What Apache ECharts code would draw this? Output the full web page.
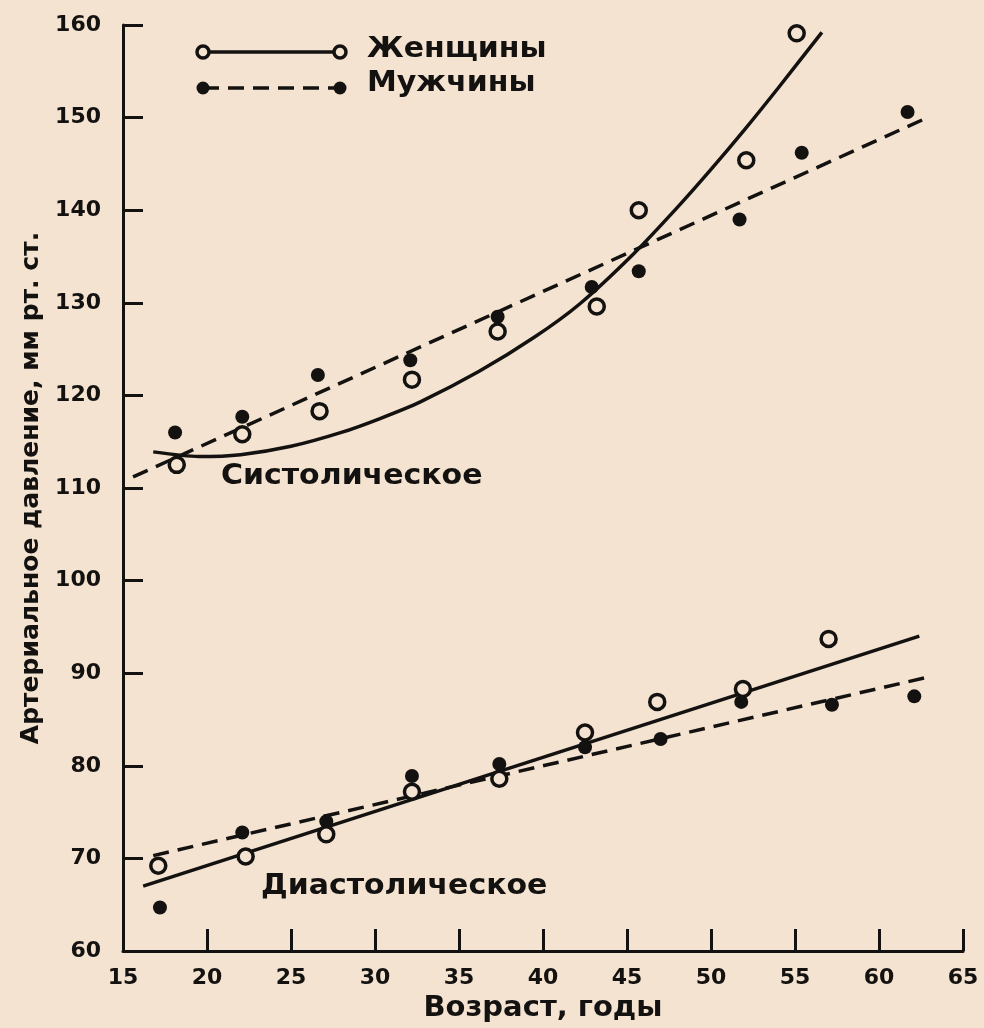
<!DOCTYPE html>
<html>
<head>
<meta charset="utf-8">
<script src="https://cdn.jsdelivr.net/npm/echarts@6/dist/echarts.min.js"></script>
<style>
html, body {margin: 0; padding: 0; background: #f3e3d0;}
#chart {width: 984px; height: 1028px;}
</style>
</head>
<body>
<div id="chart"></div>
<script>
// measured points: [age, mmHg]
const sysWomenPoints = [[18.2, 112.5], [22.1, 115.8], [26.7, 118.3], [32.2, 121.7], [37.3, 126.9], [43.2, 129.6], [45.7, 140.0], [52.1, 145.4], [55.1, 159.1]];
const sysMenPoints = [[18.1, 116.0], [22.1, 117.7], [26.6, 122.2], [32.1, 123.8], [37.3, 128.5], [42.9, 131.7], [45.7, 133.4], [51.7, 139.0], [55.4, 146.2], [61.7, 150.6]];
const diaWomenPoints = [[17.1, 69.2], [22.3, 70.2], [27.1, 72.6], [32.2, 77.2], [37.4, 78.6], [42.5, 83.6], [46.8, 86.9], [51.9, 88.3], [57.0, 93.7]];
const diaMenPoints = [[17.2, 64.7], [22.1, 72.8], [27.1, 74.0], [32.2, 78.9], [37.4, 80.2], [42.5, 82.0], [47.0, 82.9], [51.8, 86.9], [57.2, 86.6], [62.1, 87.5]];

// fitted lines as drawn in the figure
const sysWomenCurve = [[16.8, 113.9], [19.5, 113.4], [22, 113.6], [25, 114.5], [28, 116.0], [30.3, 117.5], [32.7, 119.3], [36.2, 122.6], [39.5, 126.3], [42.2, 129.9], [45.4, 135.3], [48, 140.3], [50, 144.4], [52, 148.7], [54, 153.2], [56.6, 159.2]];
const sysMenLine = [[15.6, 111.2], [63.0, 150.1]];
const diaWomenLine = [[16.2, 67.0], [62.4, 94.0]];
const diaMenLine = [[16.8, 70.3], [63.2, 89.7]];

const xTicks = {min: 15, max: 65, step: 5};
const yTicks = {min: 60, max: 160, step: 10};

const ink = '#141210';
const bg = '#f3e3d0';
const font = 'DejaVu Sans';

let chart = echarts.init(document.getElementById('chart'), null, {renderer: 'canvas'});

let axisCommon = {
    type: 'value',
    splitLine: {show: false},
    axisLine: {lineStyle: {color: ink, width: 3}},
    axisTick: {inside: true, lineStyle: {color: ink, width: 3}},
    axisLabel: {color: ink, fontFamily: font, fontWeight: 'bold', fontSize: 22},
    nameLocation: 'middle',
    nameTextStyle: {color: ink, fontFamily: font, fontWeight: 'bold', fontSize: 22}
};

let lineSeries = (data, dashed, smooth) => ({
    type: 'line',
    data: data,
    showSymbol: false,
    smooth: smooth ? 0.25 : false,
    lineStyle: {color: ink, width: 3.5, type: dashed ? [16, 9] : 'solid'},
    silent: true,
    z: 2
});

let openDots = (data) => ({
    type: 'scatter',
    data: data,
    symbol: 'circle',
    symbolSize: 15,
    itemStyle: {color: bg, borderColor: ink, borderWidth: 3.5, opacity: 1},
    z: 4
});

let filledDots = (data) => ({
    type: 'scatter',
    data: data,
    symbol: 'circle',
    symbolSize: 14,
    itemStyle: {color: ink, opacity: 1},
    z: 3
});

let labelText = {fontFamily: font, fontWeight: 'bold', fontSize: 28, fill: ink, textVerticalAlign: 'middle'};

chart.setOption({
    backgroundColor: bg,
    animation: false,
    grid: {left: 123, right: 21, top: 25, bottom: 76},
    xAxis: {
        ...axisCommon,
        min: xTicks.min, max: xTicks.max, interval: xTicks.step,
        axisTick: {...axisCommon.axisTick, length: 22},
        axisLabel: {...axisCommon.axisLabel, margin: 16},
        name: 'Возраст, годы',
        nameGap: 43,
        nameTextStyle: {...axisCommon.nameTextStyle, fontSize: 29}
    },
    yAxis: {
        ...axisCommon,
        min: yTicks.min, max: yTicks.max, interval: yTicks.step,
        axisTick: {...axisCommon.axisTick, length: 20},
        axisLabel: {...axisCommon.axisLabel, margin: 22},
        name: 'Артериальное давление, мм рт. ст.',
        nameGap: 76,
        nameTextStyle: {...axisCommon.nameTextStyle, fontSize: 25}
    },
    series: [
        lineSeries(sysWomenCurve, false, true),
        lineSeries(sysMenLine, true, false),
        lineSeries(diaWomenLine, false, false),
        lineSeries(diaMenLine, true, false),
        filledDots(sysMenPoints),
        filledDots(diaMenPoints),
        openDots(sysWomenPoints),
        openDots(diaWomenPoints)
    ],
    graphic: [
        {type: 'line', shape: {x1: 203, y1: 52, x2: 340, y2: 52}, style: {stroke: ink, lineWidth: 3.5}},
        {type: 'circle', shape: {cx: 203, cy: 52, r: 6}, style: {fill: bg, stroke: ink, lineWidth: 3.5}},
        {type: 'circle', shape: {cx: 340, cy: 52, r: 6}, style: {fill: bg, stroke: ink, lineWidth: 3.5}},
        {type: 'text', x: 367, y: 50, scaleX: 1.07, style: {...labelText, text: 'Женщины'}},
        {type: 'line', shape: {x1: 203, y1: 88, x2: 340, y2: 88}, style: {stroke: ink, lineWidth: 3.5, lineDash: [16, 9]}},
        {type: 'circle', shape: {cx: 203, cy: 88, r: 6.5}, style: {fill: ink}},
        {type: 'circle', shape: {cx: 340, cy: 88, r: 6.5}, style: {fill: ink}},
        {type: 'text', x: 367, y: 84, scaleX: 1.07, style: {...labelText, text: 'Мужчины'}},
        {type: 'text', x: 221, y: 477, scaleX: 1.07, style: {...labelText, text: 'Систолическое'}},
        {type: 'text', x: 261, y: 887, scaleX: 1.07, style: {...labelText, text: 'Диастолическое'}}
    ]
});
</script>
</body>
</html>
